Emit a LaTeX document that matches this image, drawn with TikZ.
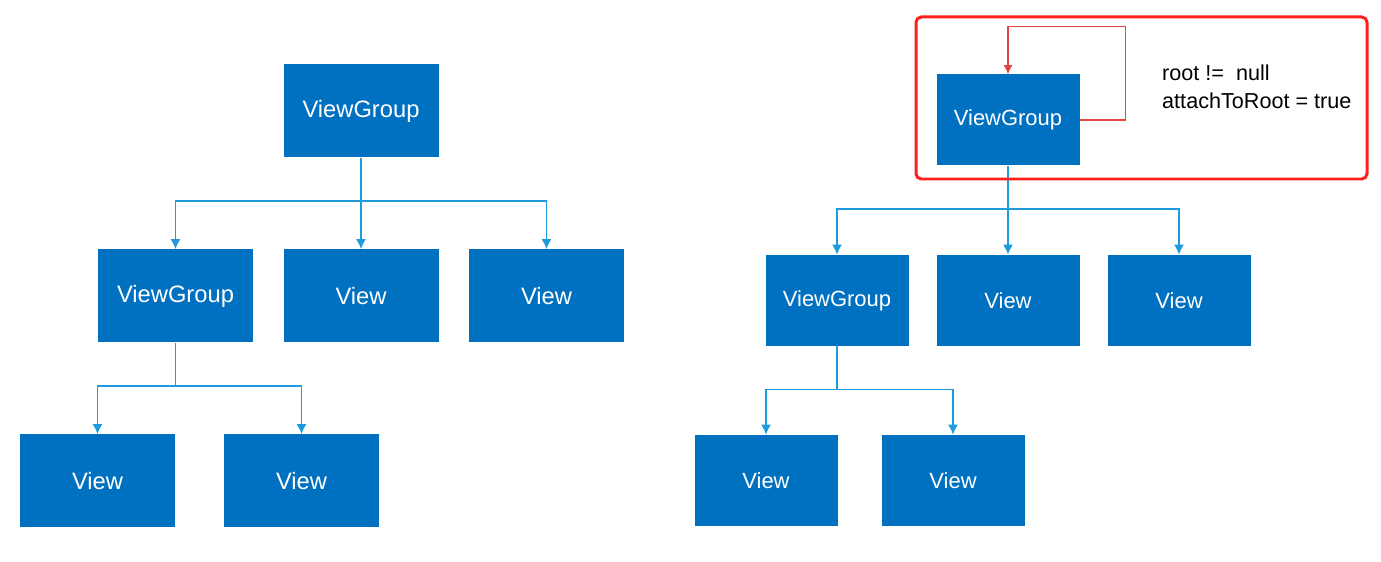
\documentclass[tikz,border=0pt]{standalone}
\usepackage{fontspec}
\setmainfont{Liberation Sans}
\usetikzlibrary{trees,arrows.meta}
\definecolor{boxblue}{RGB}{0,112,192}
\definecolor{lineblue}{RGB}{30,155,220}
\definecolor{framered}{RGB}{255,30,30}
\definecolor{loopred}{RGB}{225,70,70}
\tikzset{
  box/.style={fill=boxblue, text=white, inner sep=0pt, minimum width=3.1cm, minimum height=1.86cm, font=\fontsize{13.5}{16}\selectfont},
  rbox/.style={box, minimum width=2.86cm, minimum height=1.82cm, font=\fontsize{12.5}{15}\selectfont},
  link/.style={draw=lineblue, line width=0.9pt, -{Latex[length=2mm,width=2mm]}}
}

\begin{document}
\begin{tikzpicture}[edge from parent/.style={link}, edge from parent path={(\tikzparentnode.south) -- ++(0,-0.86) -| (\tikzchildnode.north)}]
\useasboundingbox (0,0) rectangle (27.62,-11.24);
% left tree
\node[box] (lroot) at (7.22,-2.22) {ViewGroup}
    [level distance=3.7cm, level 1/.style={sibling distance=3.71cm},
     level 2/.style={grow via three points={one child at (0.48,-3.7) and two children at (-1.56,-3.7) and (2.52,-3.7)}}]
    child { node[box] (lvg) {ViewGroup}
        child { node[box] (lv3) {View} }
        child { node[box] (lv4) {View} }
        }
    child { node[box] (lv1) {View} }
    child { node[box] (lv2) {View} }
;
% right tree
\node[rbox] (rroot) at (20.16,-2.40) {ViewGroup}
    [level distance=3.61cm, level 1/.style={sibling distance=3.42cm},
     level 2/.style={grow via three points={one child at (0.45,-3.6) and two children at (-1.42,-3.6) and (2.32,-3.6)}}]
    child { node[rbox] (rvg) {ViewGroup}
        child { node[rbox] (rv3) {View} }
        child { node[rbox] (rv4) {View} }
        }
    child { node[rbox] (rv1) {View} }
    child { node[rbox] (rv2) {View} }
;
% root loop
\draw[loopred, line width=0.6pt, -{Latex[length=1.8mm,width=1.8mm]}] (rroot.east) -- ++(0.92,0) |- ([yshift=0.96cm]rroot.north) -- (rroot.north);
\node[anchor=west, align=left, font=\fontsize{12.3}{15.9}\selectfont] (cond) at (23.12,-1.74) {root !=~~null\\attachToRoot = true};
\draw[framered, line width=1.7pt, rounded corners=3pt] (18.32,-0.34) rectangle (27.34,-3.58);
\end{tikzpicture}
\end{document}
